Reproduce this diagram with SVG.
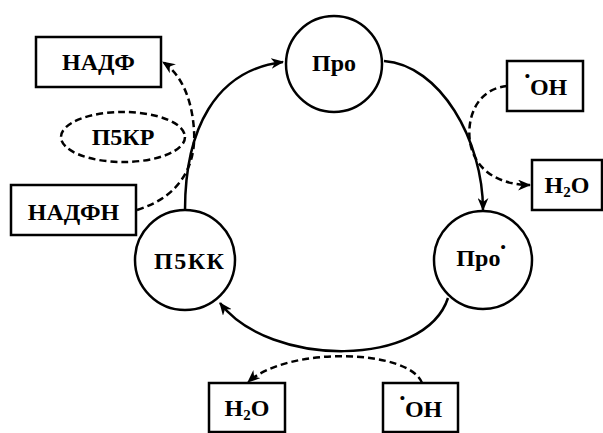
<svg xmlns="http://www.w3.org/2000/svg" width="603" height="433" viewBox="0 0 603 433">
<style>
.b{fill:#fff;stroke:#000;stroke-width:2.5}
.d{fill:none;stroke:#000;stroke-width:2.5;stroke-dasharray:7,4}
.s{fill:none;stroke:#000;stroke-width:2.5}
text{font-family:'Liberation Serif','DejaVu Serif',serif;font-weight:700;font-size:24px;text-anchor:middle;fill:#000}
.sub{font-size:15px}
.dot{font-size:15px}
</style>
<defs>
<marker id="a" viewBox="0 0 12 10" refX="11" refY="5" markerWidth="13" markerHeight="11" markerUnits="userSpaceOnUse" orient="auto">
<path d="M0,0 L12,5 L0,10 L3.5,5 z" fill="#000"/>
</marker>
</defs>
<rect width="603" height="433" fill="#fff"/>
<g id="connectors">
<path class="s" d="M185,210 C185,130 215,70 283,62" marker-end="url(#a)"/>
<path class="s" d="M384,61 C440,65 483,140 483,210" marker-end="url(#a)"/>
<path class="s" d="M448,298 C425,368 270,368 220,303" marker-end="url(#a)"/>
<path class="d" d="M137,210 C185,195 196,160 194,130 C192,100 182,75 163,62" marker-end="url(#a)"/>
<path class="d" d="M507,86 C470,90 465,130 472,150 C480,175 505,185 530,185" marker-end="url(#a)"/>
<path class="d" d="M422,383 C410,350 290,345 248,382" marker-end="url(#a)"/>
</g>
<g id="pro"><circle class="b" cx="334" cy="64" r="48"/><text x="334" y="71">Про</text></g>
<g id="pro-rad"><circle class="b" cx="483" cy="260" r="49"/><text x="481" y="266">Про<tspan class="dot" dy="-14">•</tspan></text></g>
<g id="p5kk"><circle class="b" cx="185" cy="260" r="50"/><text x="189" y="269" textLength="70" lengthAdjust="spacing">П5КК</text></g>
<g id="nadf"><rect class="b" x="36" y="37" width="125" height="50"/><text x="98.5" y="70">НАДФ</text></g>
<g id="nadfh"><rect class="b" x="11" y="185" width="125" height="50"/><text x="73.5" y="220">НАДФН</text></g>
<g id="p5kr"><ellipse class="d" cx="123" cy="137" rx="62" ry="25"/><text x="123" y="145">П5КР</text></g>
<g id="oh1"><rect class="b" x="507" y="61" width="76" height="50"/><text x="546" y="95"><tspan class="dot" dy="-14">•</tspan><tspan dy="14">OH</tspan></text></g>
<g id="h2o1"><rect class="b" x="532" y="160" width="70" height="50"/><text x="567" y="193">H<tspan class="sub" dy="4">2</tspan><tspan dy="-4">O</tspan></text></g>
<g id="h2o2"><rect class="b" x="209" y="383" width="76" height="49"/><text x="247" y="416">H<tspan class="sub" dy="4">2</tspan><tspan dy="-4">O</tspan></text></g>
<g id="oh2"><rect class="b" x="383" y="383" width="75" height="49"/><text x="421" y="417"><tspan class="dot" dy="-14">•</tspan><tspan dy="14">OH</tspan></text></g>
</svg>
